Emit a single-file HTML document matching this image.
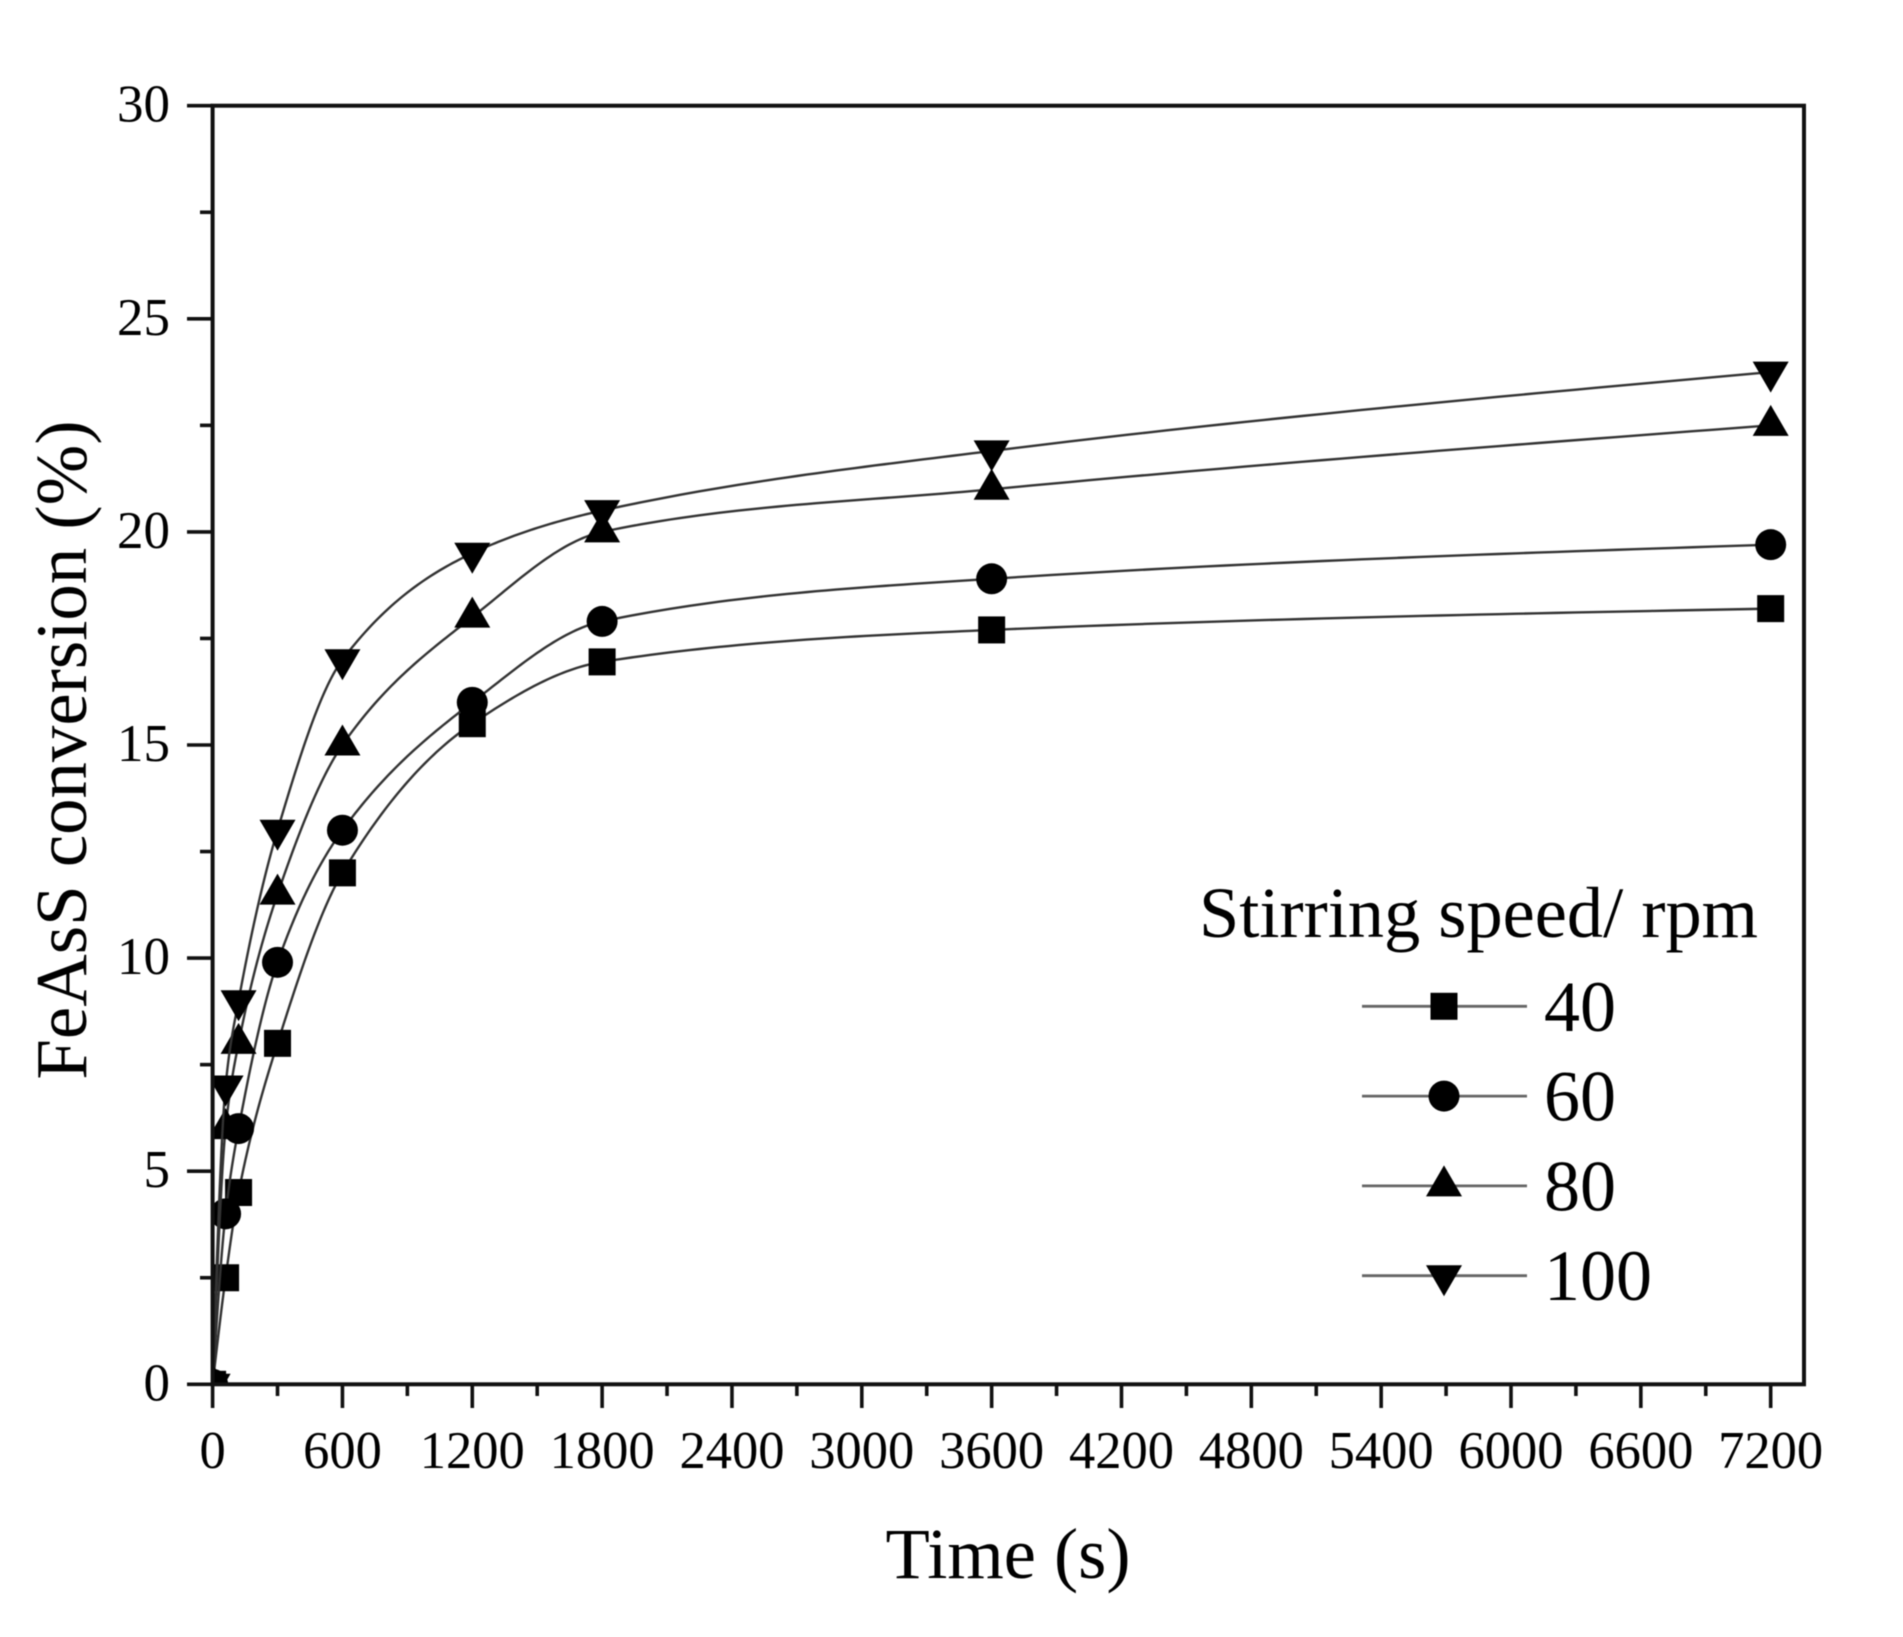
<!DOCTYPE html>
<html lang="en">
<head>
<meta charset="utf-8">
<title>FeAsS conversion vs time</title>
<style>
html,body{margin:0;padding:0;background:#fff;width:1903px;height:1637px;overflow:hidden}
svg{display:block;filter:blur(0.6px)}
text{font-family:"Liberation Serif",serif;fill:#000}
</style>
</head>
<body>
<svg id="chart" xmlns="http://www.w3.org/2000/svg" width="1903" height="1637" viewBox="0 0 1903 1637">
  <defs><clipPath id="plot-clip"><rect x="212.6" y="105.7" width="1591.4" height="1278.6"/></clipPath></defs>
  <rect width="1903" height="1637" fill="#fff"/>
  <g id="series-layer" clip-path="url(#plot-clip)"></g>
  <g id="axis-layer"></g>
  <text x="1008" y="1578" font-size="72.5" text-anchor="middle">Time (s)</text>
  <text transform="translate(86 750) rotate(-90)" font-size="72.8" text-anchor="middle">FeAsS conversion (%)</text>
  <text x="1199" y="937" font-size="72.4">Stirring speed/ rpm</text>
  <g id="legend-layer"></g>
</svg>
<script>
const times = [0, 60, 120, 300, 600, 1200, 1800, 3600, 7200];
const rpm40 = [0, 2.5, 4.5, 8, 12, 15.5, 16.95, 17.7, 18.2];
const rpm60 = [0, 4, 6, 9.9, 13, 16, 17.9, 18.9, 19.7];
const rpm80 = [0, 6, 8, 11.5, 15, 18, 20, 21, 22.5];
const rpm100 = [0, 7, 9, 13, 17, 19.5, 20.5, 21.9, 23.75];
const seriesNames = ["40", "60", "80", "100"];
const xTickLabels = ["0", "600", "1200", "1800", "2400", "3000", "3600", "4200", "4800", "5400", "6000", "6600", "7200"];
const yTickLabels = ["0", "5", "10", "15", "20", "25", "30"];

const allSeries = [rpm40, rpm60, rpm80, rpm100];
const markerKinds = ["square", "circle", "up", "down"];
const NS = "http://www.w3.org/2000/svg";

function xScale(t) { return 212.6 + (t / 600) * 129.84; }
function yScale(v) { return 1384.3 - v * 42.62; }

function mk(tag, attrs, parent) {
  const el = document.createElementNS(NS, tag);
  for (const k in attrs) el.setAttribute(k, attrs[k]);
  parent.appendChild(el);
  return el;
}

/* Shape-preserving cubic Hermite curve through the data points */
function splinePath(xs, ys) {
  const n = xs.length, h = [], sec = [], d = new Array(n).fill(0);
  for (let i = 0; i < n - 1; i++) {
    h.push(xs[i + 1] - xs[i]);
    sec.push((ys[i + 1] - ys[i]) / h[i]);
  }
  for (let i = 1; i < n - 1; i++) {
    if (sec[i - 1] * sec[i] <= 0) { d[i] = 0; continue; }
    const w1 = 2 * h[i] + h[i - 1], w2 = h[i] + 2 * h[i - 1];
    d[i] = (w1 + w2) / (w1 / sec[i - 1] + w2 / sec[i]);
  }
  d[0] = Math.max(0, (3 * sec[0] - d[1]) / 2);
  d[n - 1] = Math.max(0, (3 * sec[n - 2] - d[n - 2]) / 2);
  let path = "M" + xScale(xs[0]).toFixed(2) + " " + yScale(ys[0]).toFixed(2);
  for (let i = 0; i < n - 1; i++) {
    for (let k = 1; k <= 40; k++) {
      const u = k / 40, u2 = u * u, u3 = u2 * u;
      const v = (2 * u3 - 3 * u2 + 1) * ys[i] + (u3 - 2 * u2 + u) * h[i] * d[i] + (-2 * u3 + 3 * u2) * ys[i + 1] + (u3 - u2) * h[i] * d[i + 1];
      path += "L" + xScale(xs[i] + u * h[i]).toFixed(2) + " " + yScale(v).toFixed(2);
    }
  }
  return path;
}

function drawMarker(kind, cx, cy, parent) {
  if (kind === "square") return mk("rect", { x: cx - 13.5, y: cy - 13.5, width: 27, height: 27, fill: "#000" }, parent);
  if (kind === "circle") return mk("circle", { cx: cx, cy: cy, r: 15.5, fill: "#000" }, parent);
  if (kind === "up") return mk("polygon", { points: (cx - 18) + "," + (cy + 10.5) + " " + (cx + 18) + "," + (cy + 10.5) + " " + cx + "," + (cy - 20.5), fill: "#000" }, parent);
  return mk("polygon", { points: (cx - 18) + "," + (cy - 10.5) + " " + (cx + 18) + "," + (cy - 10.5) + " " + cx + "," + (cy + 20.5), fill: "#000" }, parent);
}

const seriesLayer = document.getElementById("series-layer");
allSeries.forEach(function (vals, i) {
  const group = mk("g", {}, seriesLayer);
  
  
  const line = mk("path", { d: splinePath(times, vals), fill: "none", stroke: "#333", "stroke-width": 2.4 }, group);
  
  
  vals.forEach(function (v, j) {
    const m = drawMarker(markerKinds[i], xScale(times[j]), yScale(v), group);
    
    
  });
});

const axisLayer = document.getElementById("axis-layer");
const frame = mk("rect", { x: 212.6, y: 105.7, width: 1591.4, height: 1278.6, fill: "none", stroke: "#111", "stroke-width": 4 }, axisLayer);



xTickLabels.forEach(function (label, i) {
  const t = +label;
  const x = xScale(t);
  const tick = mk("line", { x1: x, x2: x, y1: 1384.3, y2: 1408, stroke: "#111", "stroke-width": 3.6 }, axisLayer);
  
  
  const txt = mk("text", { x: x, y: 1468, "font-size": 52.5, "text-anchor": "middle" }, axisLayer);
  txt.textContent = label;
  
  
  if (i < xTickLabels.length - 1) {
    const mx = xScale(t + 300);
    const minor = mk("line", { x1: mx, x2: mx, y1: 1384.3, y2: 1396, stroke: "#111", "stroke-width": 3.6 }, axisLayer);
    
    
  }
});

yTickLabels.forEach(function (label, i) {
  const v = +label;
  const y = yScale(v);
  const tick = mk("line", { x1: 187, x2: 212.6, y1: y, y2: y, stroke: "#111", "stroke-width": 3.6 }, axisLayer);
  
  
  const txt = mk("text", { x: 170, y: y + 16, "font-size": 53, "text-anchor": "end" }, axisLayer);
  txt.textContent = label;
  
  
  if (i < yTickLabels.length - 1) {
    const my = yScale(v + 2.5);
    const minor = mk("line", { x1: 200, x2: 212.6, y1: my, y2: my, stroke: "#111", "stroke-width": 3.6 }, axisLayer);
    
    
  }
});

const legendLayer = document.getElementById("legend-layer");
seriesNames.forEach(function (name, i) {
  const ly = 1006.3 + i * 89.8;
  const entry = mk("g", {}, legendLayer);
  
  
  const line = mk("line", { x1: 1362, x2: 1527, y1: ly, y2: ly, stroke: "#666", "stroke-width": 2.8 }, entry);
  
  
  const m = drawMarker(markerKinds[i], 1444, ly, entry);
  
  
  const txt = mk("text", { x: 1544, y: ly + 24.5, "font-size": 72 }, entry);
  txt.textContent = name;
  
  
});
</script>
</body>
</html>
